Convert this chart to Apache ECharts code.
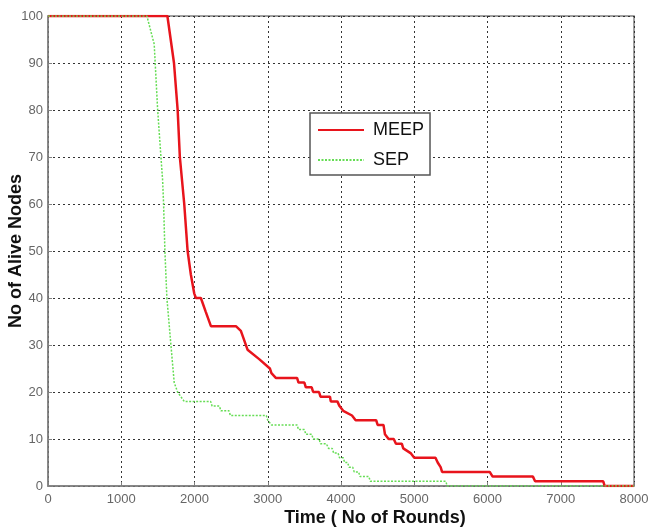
<!DOCTYPE html>
<html><head><meta charset="utf-8">
<script src="https://cdn.jsdelivr.net/npm/echarts@6/dist/echarts.min.js"></script>
<style>html,body{margin:0;padding:0;background:#fff}#c{width:649px;height:531px}</style>
</head><body><div id="c"></div>
<script>
const xTicks = [0,1000,2000,3000,4000,5000,6000,7000,8000];
const yTicks = [0,10,20,30,40,50,60,70,80,90,100];
const seriesNames = ['MEEP','SEP'];
// MEEP curve vertices: round, alive nodes
const meepRounds = [0,1630,1720,1770,1800,1860,1906,1950,1996,2019,2087,2155,2224,2565,2633,2724,2883,3029,3050,3110,3400,3420,3500,3520,3600,3620,3700,3720,3850,3860,3950,3980,4030,4150,4200,4480,4500,4580,4600,4650,4720,4750,4830,4850,4950,5000,5290,5320,5360,5380,6030,6070,6620,6650,7580,7600,8000];
const meepAlive  = [100,100,90,80,70,60,50,45,41,40,40,37,34,34,33,29,27,25,24,23,23,22,22,21,21,20,20,19,19,18,18,17,16,15,14,14,13,13,11,10,10,9,9,8,7,6,6,5,4,3,3,2,2,1,1,0,0];
// SEP curve vertices
const sepRounds = [0,1350,1450,1497,1542,1565,1578,1596,1623,1678,1723,1769,1860,2220,2240,2340,2360,2470,2490,2980,3000,3050,3400,3420,3500,3520,3600,3620,3700,3720,3800,3830,3880,3900,3960,3980,4030,4050,4090,4110,4160,4180,4240,4260,4380,4400,5430,5450,8000];
const sepAlive  = [100,100,94,80,70,65,60,50,40,30,22,20,18,18,17,17,16,16,15,15,14,13,13,12,12,11,11,10,10,9,9,8,8,7,7,6,6,5,5,4,4,3,3,2,2,1,1,0,0];

const pairs = (xs, ys) => xs.map((x,i)=>[x, ys[i]]);
const tickFont = {fontFamily:'Liberation Sans',fontSize:13,color:'#666'};
const chart = echarts.init(document.getElementById('c'));
chart.setOption({
  animation:false,
  backgroundColor:'#fff',
  grid:{left:48,right:15,top:16,bottom:45,containLabel:false,outerBoundsMode:'none',show:true,borderColor:'#808080',borderWidth:1.5,backgroundColor:'#fff'},
  xAxis:{type:'value',min:0,max:8000,interval:1000,
    name:'Time ( No of Rounds)',nameLocation:'middle',nameGap:23,nameMoveOverlap:false,
    nameTextStyle:{fontFamily:'Liberation Sans',fontWeight:'bold',fontSize:18,color:'#111',padding:[0,0,0,68]},
    axisLine:{show:true,lineStyle:{color:'#808080',width:1.5}},
    axisTick:{show:true,inside:true,length:4,lineStyle:{color:'#808080'}},
    axisLabel:Object.assign({margin:7,formatter:v=>String(v)},tickFont),
    splitLine:{show:true,lineStyle:{color:'#333',type:[2,3],width:1}}},
  yAxis:{type:'value',min:0,max:100,interval:10,
    name:'No of Alive Nodes',nameLocation:'middle',nameGap:23,nameMoveOverlap:false,
    nameTextStyle:{fontFamily:'Liberation Sans',fontWeight:'bold',fontSize:18,color:'#111'},
    axisLine:{show:true,lineStyle:{color:'#808080',width:1.5}},
    axisTick:{show:true,inside:true,length:4,lineStyle:{color:'#808080'}},
    axisLabel:Object.assign({margin:5,formatter:v=>String(v)},tickFont),
    splitLine:{show:true,lineStyle:{color:'#333',type:[2,3],width:1}}},
  legend:{left:310,top:113,orient:'vertical',data:seriesNames,
    backgroundColor:'#fff',borderColor:'#555',borderWidth:1.5,padding:[8,6,6,7],
    itemWidth:46,itemHeight:16,itemGap:12,itemStyle:{opacity:0},
    textStyle:{fontFamily:'Liberation Sans',fontSize:18,lineHeight:16,color:'#111',padding:[0,0,0,4]}},
  series:[
    {name:seriesNames[0],type:'line',symbol:'none',data:pairs(meepRounds,meepAlive),
     lineStyle:{color:'#e8141c',width:2.5},itemStyle:{color:'#e8141c'},z:2},
    {name:seriesNames[1],type:'line',symbol:'none',data:pairs(sepRounds,sepAlive),
     lineStyle:{color:'#66dd55',width:1.5,type:[2,1.5]},itemStyle:{color:'#66dd55'},z:3}
  ]
});
</script></body></html>
